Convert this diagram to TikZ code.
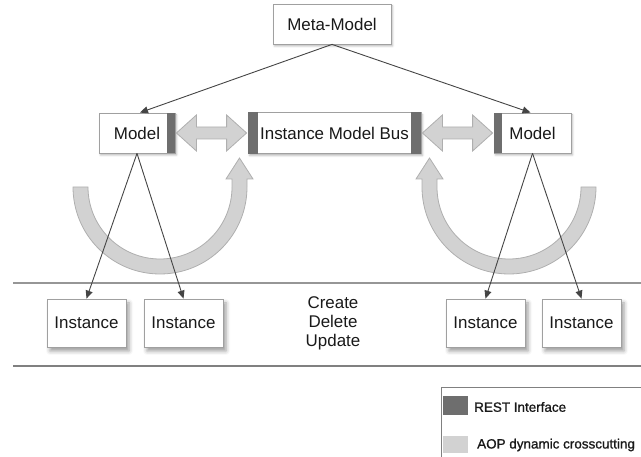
\documentclass[tikz,border=0pt]{standalone}
\usepackage{fontspec}
\setmainfont{Liberation Sans}
\newfontfamily\legendfont[FakeBold=1]{Liberation Sans}
\usetikzlibrary{arrows.meta,calc,shadows.blur}

\definecolor{barc}{RGB}{110,110,110}
\definecolor{aopc}{RGB}{210,210,210}
\definecolor{aopedge}{RGB}{175,175,175}
\definecolor{boxedge}{RGB}{160,160,160}
\definecolor{linkc}{RGB}{68,68,68}
\definecolor{txt}{RGB}{25,25,25}
\definecolor{rulec}{RGB}{150,150,150}

\tikzset{
  box/.style={draw=boxedge, fill=white, line width=0.8bp, inner sep=0pt,
    text=txt, font=\fontsize{17}{20}\selectfont},
  shadowed/.style={blur shadow={shadow xshift=3bp, shadow yshift=-4bp,
    shadow blur radius=4bp, shadow opacity=40}},
  softshadow/.style={blur shadow={shadow xshift=1.5bp, shadow yshift=-2bp,
    shadow blur radius=2bp, shadow opacity=30}},
  rest/.style={fill=barc},
  aop/.style={fill=aopc, draw=aopedge, line width=0.8bp},
  link/.style={draw=linkc, line width=0.9bp,
    -{Triangle[length=8bp,width=7bp]}},
  rule/.style={draw=rulec, line width=1.2bp},
  heavyrule/.style={draw=rulec!85!black, line width=2bp},
  legendline/.style={draw=rulec!85!black, line width=1bp},
  legendtext/.style={text=txt, anchor=west, inner sep=0pt,
    font=\legendfont\fontsize{13.5}{16}\selectfont},
}

\begin{document}
\begin{tikzpicture}[x=1bp,y=1bp]
\useasboundingbox (0,0) rectangle (641,457);

% layer separators
\draw[rule] (13,174) -- (641,174);
\draw[heavyrule] (13,91) -- (641,91);

% AOP crosscutting arcs
\coordinate (lc) at (160,270);
\coordinate (rc) at (509,270);
\path[aop] ($(lc)+(-87,0)$) arc[start angle=180, end angle=360, radius=87]
  -- ++(0,8) -- ++(6,0) -- ($(lc)+(79.5,29)$) -- ($(lc)+(66,8)$) -- ++(6,0)
  -- ($(lc)+(72,0)$) arc[start angle=0, end angle=-180, radius=72] -- cycle;
\path[aop] ($(rc)+(87,0)$) arc[start angle=0, end angle=-180, radius=87]
  -- ++(0,8) -- ++(-6,0) -- ($(rc)+(-79.5,29)$) -- ($(rc)+(-66,8)$) -- ++(-6,0)
  -- ($(rc)+(-72,0)$) arc[start angle=180, end angle=360, radius=72] -- cycle;

% boxes
\node[box, softshadow, minimum width=118bp, minimum height=40bp] (meta) at (332,433) {Meta-Model};
\node[box, softshadow, minimum width=76bp, minimum height=40bp] (ml) at (137,324) {Model};
\node[box, softshadow, minimum width=173bp, minimum height=41bp] (bus) at (334.5,324) {Instance Model Bus};
\node[box, softshadow, minimum width=77bp, minimum height=40bp] (mr) at (532.5,324) {Model};

\node[box, shadowed, minimum width=79bp, minimum height=48bp] (i1) at (86.5,134) {Instance};
\node[box, shadowed, minimum width=79bp, minimum height=48bp] (i2) at (183.5,134) {Instance};
\node[box, shadowed, minimum width=79bp, minimum height=48bp] (i3) at (485.5,134) {Instance};
\node[box, shadowed, minimum width=79bp, minimum height=48bp] (i4) at (581.5,134) {Instance};

% REST interface bars
\fill[rest] (ml.north east) rectangle ($(ml.south east)+(-8,0)$);
\fill[rest] (mr.north west) rectangle ($(mr.south west)+(8,0)$);
\fill[rest] (bus.north west) rectangle ($(bus.south west)+(10,0)$);
\fill[rest] (bus.north east) rectangle ($(bus.south east)+(-10,0)$);

% bus connections
\path[aop] ($(ml.east)+(1,0)$) -- ++(20,18) -- ++(0,-12) -- ($(bus.west)+(-21,6)$)
  -- ++(0,12) -- ($(bus.west)+(-1,0)$) -- ++(-20,-18) -- ++(0,12)
  -- ($(ml.east)+(21,-6)$) -- ++(0,-12) -- cycle;
\path[aop] ($(bus.east)+(1,0)$) -- ++(20,18) -- ++(0,-12) -- ($(mr.west)+(-21,6)$)
  -- ++(0,12) -- ($(mr.west)+(-1,0)$) -- ++(-20,-18) -- ++(0,12)
  -- ($(bus.east)+(21,-6)$) -- ++(0,-12) -- cycle;

% instantiation links
\draw[link] (meta.south) -- ($(ml.north)+(3,0)$);
\draw[link] (meta.south) -- ($(mr.north)+(-2,0)$);
\draw[link] (ml.south) -- (i1.north);
\draw[link] (ml.south) -- (i2.north);
\draw[link] (mr.south) -- (i3.north);
\draw[link] (mr.south) -- (i4.north);

% operations
\node[align=center, text=txt, inner sep=0pt, font=\fontsize{17}{19}\selectfont] (ops) at (333,133.5)
  {Create\\Delete\\Update};

% legend
\draw[legendline] (441,0) -- (441,69) -- (641,69);
\fill[barc] (443,42) rectangle (468,61);
\fill[aopc] (443,4) rectangle (468,21);
\node[legendtext] (lrest) at (474,50) {REST Interface};
\node[legendtext] (laop) at (477,12) {AOP dynamic crosscutting};
\end{tikzpicture}
\end{document}
